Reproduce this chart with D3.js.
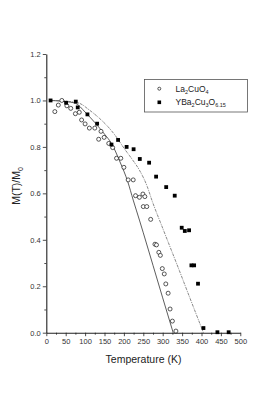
<!DOCTYPE html>
<html lang="en">
<head>
  <meta charset="UTF-8">
  <title>M(T)/M0 vs Temperature</title>
  <script src="https://d3js.org/d3.v7.min.js"></script>
  <style>
    body { margin: 0; background: #fff; font-family: "Liberation Sans", Arial, sans-serif; }
    .tick text { font-size: 7.5px; fill: #333; }
  </style>
</head>
<body>
  <svg width="277" height="399"></svg>

  <script>
    // La2CuO4 (open circles): [T (K), M/M0]
    const laT = [22, 31, 40, 53, 63, 75, 85, 91, 100, 111, 125, 135, 141, 149, 161, 171, 181, 192, 200, 211, 224, 230, 240,
                 249, 254, 250, 259, 269, 280, 284, 290, 294, 299, 304, 308, 314, 319, 325, 334];
    const laM = [0.952, 0.98, 1.0, 0.977, 0.966, 0.943, 0.949, 0.916, 0.899, 0.881, 0.881, 0.833, 0.867, 0.841, 0.815, 0.797, 0.751, 0.751, 0.712, 0.658, 0.658, 0.59, 0.583,
                 0.597, 0.586, 0.543, 0.543, 0.488, 0.381, 0.378, 0.346, 0.333, 0.276, 0.253, 0.21, 0.17, 0.102, 0.05, 0.007];

    // YBa2Cu3O6.15 (filled squares)
    const ybT = [11, 51, 76, 81, 106, 131, 168, 185, 207, 225, 241, 265, 283, 309, 331, 349, 357, 368, 374, 381, 391, 405, 441, 470];
    const ybM = [1.0, 0.99, 0.995, 0.97, 0.94, 0.90, 0.81, 0.83, 0.80, 0.79, 0.748, 0.732, 0.672, 0.627, 0.59, 0.452, 0.438, 0.441, 0.29, 0.29, 0.211, 0.02, 0.002, 0.002];

    // solid curve
    const solidT = [10, 50, 75, 100, 125, 150, 168, 190, 210, 224, 240, 250, 275, 300, 327];
    const solidM = [1.0, 0.995, 0.988, 0.95, 0.905, 0.855, 0.815, 0.735, 0.65, 0.571, 0.485, 0.43, 0.29, 0.15, 0.0];

    // dash-dot curve
    const dashT = [10, 50, 85, 110, 137, 160, 180, 200, 222, 240, 260, 272, 300, 340, 370, 405];
    const dashM = [1.0, 0.997, 0.988, 0.96, 0.923, 0.885, 0.844, 0.795, 0.745, 0.70, 0.63, 0.571, 0.45, 0.28, 0.15, 0.0];

    const xTicks = [0, 50, 100, 150, 200, 250, 300, 350, 400, 450, 500];
    const yTicks = [0.0, 0.2, 0.4, 0.6, 0.8, 1.0, 1.2];

    const svg = d3.select("svg");

    const x = d3.scaleLinear().domain([0, 500]).range([46.3, 240.3]);
    const y = d3.scaleLinear().domain([0, 1.2]).range([332.7, 54]);

    // minor ticks
    svg.append("g")
      .attr("transform", `translate(0,${y(0)})`)
      .call(d3.axisBottom(x).tickValues(d3.range(25, 500, 50)).tickSize(2).tickFormat(""))
      .call(g => g.select(".domain").remove())
      .selectAll("line").attr("stroke", "#222").attr("stroke-width", 0.8);
    svg.append("g")
      .attr("transform", `translate(${x(0)},0)`)
      .call(d3.axisLeft(y).tickValues(d3.range(0.1, 1.2, 0.2)).tickSize(2).tickFormat(""))
      .call(g => g.select(".domain").remove())
      .selectAll("line").attr("stroke", "#222").attr("stroke-width", 0.8);

    // major axes
    const xAxis = svg.append("g")
      .attr("transform", `translate(0,${y(0)})`)
      .call(d3.axisBottom(x).tickValues(xTicks).tickSize(3.5).tickSizeOuter(0).tickPadding(2));
    const yAxis = svg.append("g")
      .attr("transform", `translate(${x(0)},0)`)
      .call(d3.axisLeft(y).tickValues(yTicks).tickSize(3.5).tickSizeOuter(0).tickPadding(2)
        .tickFormat(d3.format(".1f")));
    [xAxis, yAxis].forEach(a => {
      a.select(".domain").attr("stroke", "#222").attr("stroke-width", 1.1);
      a.selectAll(".tick line").attr("stroke", "#222").attr("stroke-width", 0.8);
      a.selectAll(".tick text").attr("font-family", "Liberation Sans, Arial, sans-serif");
    });

    // curves
    const line = d3.line().x(d => x(d[0])).y(d => y(d[1])).curve(d3.curveMonotoneX);
    svg.append("path")
      .datum(solidT.map((t, i) => [t, solidM[i]]))
      .attr("d", line)
      .attr("fill", "none").attr("stroke", "#333").attr("stroke-width", 0.8);
    svg.append("path")
      .datum(dashT.map((t, i) => [t, dashM[i]]))
      .attr("d", line)
      .attr("fill", "none").attr("stroke", "#555").attr("stroke-width", 0.7)
      .attr("stroke-dasharray", "3,1,1,1");

    // circles
    svg.selectAll(".la")
      .data(laT.map((t, i) => [t, laM[i]]))
      .join("circle")
      .attr("class", "la")
      .attr("cx", d => x(d[0]))
      .attr("cy", d => y(d[1]))
      .attr("r", 2)
      .attr("fill", "#fff")
      .attr("stroke", "#111")
      .attr("stroke-width", 0.7);

    // squares
    const s = 3.8;
    svg.selectAll(".yb")
      .data(ybT.map((t, i) => [t, ybM[i]]))
      .join("rect")
      .attr("class", "yb")
      .attr("x", d => x(d[0]) - s / 2)
      .attr("y", d => y(d[1]) - s / 2)
      .attr("width", s)
      .attr("height", s)
      .attr("fill", "#000");

    // axis titles
    svg.append("text")
      .attr("x", 143.5).attr("y", 362.5)
      .attr("text-anchor", "middle")
      .attr("font-size", 10.5).attr("fill", "#222")
      .text("Temperature (K)");

    const yt = svg.append("text")
      .attr("transform", "translate(20,186) rotate(-90)")
      .attr("text-anchor", "middle")
      .attr("font-size", 10.5).attr("fill", "#222");
    yt.append("tspan").text("M(T)/M");
    yt.append("tspan").attr("font-size", 7).attr("dy", 2.5).text("0");

    // legend
    const lg = svg.append("g");
    lg.append("rect")
      .attr("x", 144.5).attr("y", 79.5).attr("width", 103).attr("height", 32.5)
      .attr("fill", "#fff").attr("stroke", "#555").attr("stroke-width", 0.8);
    lg.append("circle")
      .attr("cx", 159.3).attr("cy", 88.7).attr("r", 1.5)
      .attr("fill", "#fff").attr("stroke", "#111").attr("stroke-width", 0.7);
    lg.append("rect")
      .attr("x", 159.3 - 1.8).attr("y", 102.3 - 1.8).attr("width", 3.6).attr("height", 3.6)
      .attr("fill", "#000");

    function chem(tx, parts) {
      parts.forEach(p => {
        if (p.sub) tx.append("tspan").attr("font-size", 5.5).attr("dy", 2).text(p.t);
        else tx.append("tspan").attr("font-size", 8.5).attr("dy", p.back ? -2 : 0).text(p.t);
      });
    }
    const l1 = lg.append("text").attr("x", 175.5).attr("y", 91.8).attr("fill", "#222");
    chem(l1, [{t: "La"}, {t: "2", sub: true}, {t: "CuO", back: true}, {t: "4", sub: true}]);
    const l2 = lg.append("text").attr("x", 175.5).attr("y", 105.3).attr("fill", "#222");
    chem(l2, [{t: "YBa"}, {t: "2", sub: true}, {t: "Cu", back: true}, {t: "3", sub: true}, {t: "O", back: true}, {t: "6.15", sub: true}]);
  </script>
</body>
</html>
